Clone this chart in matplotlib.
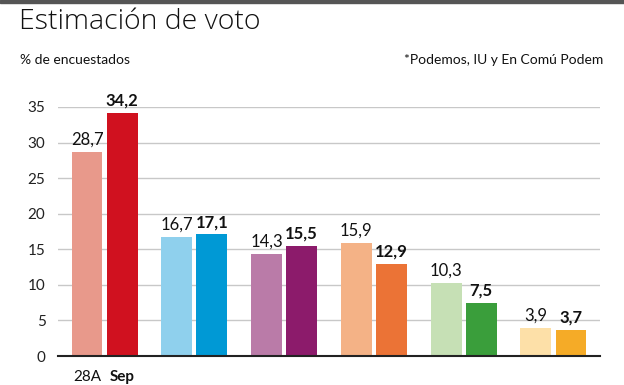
import matplotlib
matplotlib.use('Agg')
import matplotlib.pyplot as plt
from matplotlib.patches import Rectangle

# data
groups = ['PSOE', 'PP', 'Cs', 'UP*', 'Vox', 'Otros']
apr_vals = [28.7, 16.7, 14.3, 15.9, 10.3, 3.9]
sep_vals = [34.2, 17.1, 15.5, 12.9, 7.5, 3.7]
apr_colors = ['#e8998b', '#8fd0ed', '#ba7ba8', '#f4b286', '#c6e0b5', '#fde0a8']
sep_colors = ['#d0111f', '#0099d5', '#8c1b6b', '#eb7336', '#3a9e3b', '#f5ab27']
yticks = [0, 5, 10, 15, 20, 25, 30, 35]
series_labels = ['28A', 'Sep']

plt.rcParams['font.family'] = ['Lato', 'DejaVu Sans']

fig = plt.figure(figsize=(6.24, 3.85), dpi=100)
ax = fig.add_axes([58 / 624, 29 / 385, 542 / 624, 249 / 385])

w = 0.345
off = 0.195
xs = list(range(len(groups)))
for i in xs:
    ax.bar(i - off, apr_vals[i], w, color=apr_colors[i], zorder=3)
    ax.bar(i + off, sep_vals[i], w, color=sep_colors[i], zorder=3)
    ax.text(i - off, apr_vals[i] + 0.6, f"{apr_vals[i]:.1f}".replace('.', ','),
            ha='center', va='bottom', fontsize=12, color='#111111', clip_on=False)
    ax.text(i + off, sep_vals[i] + 0.6, f"{sep_vals[i]:.1f}".replace('.', ','),
            ha='center', va='bottom', fontsize=12, fontweight='bold',
            color='#111111', clip_on=False)

ax.set_xlim(-0.518, 5.518)
ax.set_ylim(0, 35)
ax.set_yticks(yticks)
ax.set_yticklabels([str(t) for t in yticks], fontsize=11, color='#222222')
ax.tick_params(axis='y', length=0, pad=9)
ax.set_xticks([-off, off])
ax.set_xticklabels(series_labels, fontsize=11, color='#111111')
ax.get_xticklabels()[1].set_fontweight('bold')
ax.tick_params(axis='x', length=0, pad=10)
ax.yaxis.grid(True, color='#c8c8c8', linewidth=1, zorder=0)
for s in ['top', 'right', 'left']:
    ax.spines[s].set_visible(False)
ax.spines['bottom'].set_color('#222222')
ax.spines['bottom'].set_linewidth(1.5)
ax.spines['bottom'].set_zorder(4)

fig.text(19 / 624, 1 - 22 / 385, 'Estimación de voto', fontsize=20.5,
         family=['Open Sans', 'DejaVu Sans'], fontweight='light',
         va='center', ha='left', color='#111111')
fig.text(20 / 624, 1 - 60 / 385, '% de encuestados', fontsize=10,
         va='center', ha='left', color='#111111')
fig.text(603 / 624, 1 - 60 / 385, '*Podemos, IU y En Comú Podem', fontsize=10,
         va='center', ha='right', color='#111111')
fig.add_artist(Rectangle((0, 1 - 3 / 385), 1, 3 / 385, transform=fig.transFigure,
                         color='#555555'))

fig.savefig('out.png', dpi=100)
